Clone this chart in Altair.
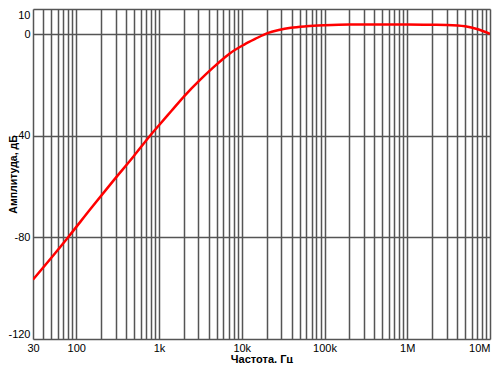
import altair as alt
import pandas as pd

# Curve readings (frequency in Hz, amplitude in dB)
freq_hz = [30, 50, 83, 150, 278, 500, 770, 1000, 1400, 2034, 3088, 4500,
           6174, 7102, 10715, 14500, 20500, 28000, 39200, 60000, 98700,
           200000, 500000, 1000000, 2000000, 3000000, 5000000, 7300000,
           10000000]
amp_db = [-96.6, -88.0, -79.2, -68.6, -57.8, -47.8, -40.1, -35.8, -30.3,
          -24.2, -18.1, -13.1, -9.2, -7.6, -4.0, -1.8, 0.5, 1.7, 2.6, 3.2,
          3.6, 3.9, 3.9, 3.9, 3.8, 3.7, 3.2, 1.9, 0.2]

# Axis ticks / labels
x_grid = [m * 10 ** k for k in range(1, 7) for m in range(1, 10)
          if 30 <= m * 10 ** k <= 10_000_000] + [10_000_000]
x_label_values = [30, 100, 1000, 10000, 100000, 1000000, 10000000]
x_label_texts = ["30", "100", "1k", "10k", "100k", "1M", "10M"]
y_ticks = [10, 0, -40, -80, -120]

x_title = "Частота, Гц"
y_title = "Амплитуда, дБ"

df = pd.DataFrame({"f": freq_hz, "db": amp_db})

label_expr = " : ".join(
    f"datum.value == {v} ? '{t}'" for v, t in zip(x_label_values, x_label_texts)
) + " : ''"

FONT = "Liberation Sans, Arial, sans-serif"
W, H = 457, 330

chart = alt.Chart(df).mark_line(
    color="#ff0000", strokeWidth=2.5, interpolate="monotone", clip=True
).encode(
    x=alt.X("f:Q",
            scale=alt.Scale(type="log", domain=[30, 10_000_000], nice=False),
            axis=alt.Axis(values=x_grid, labelExpr=label_expr, title=x_title,
                          grid=True, gridColor="#555555", gridWidth=1.5,
                          gridOpacity=1, ticks=False, domain=False,
                          labelFlush=False, labelOverlap=False,
                          labelAlign={"condition": {"test": "datum.value >= 10000000",
                                                    "value": "right"},
                                      "value": "center"},
                          labelFont=FONT, labelFontSize=11, labelColor="#000",
                          labelPadding=3,
                          titleFont=FONT, titleFontSize=11, titleFontWeight="bold",
                          titleColor="#000", titlePadding=0)),
    y=alt.Y("db:Q",
            scale=alt.Scale(domain=[-120, 10], nice=False, zero=False),
            axis=alt.Axis(values=y_ticks, title=y_title,
                          labelExpr="datum.value + ''",
                          grid=True, gridColor="#555555", gridWidth=1.5,
                          gridOpacity=1, ticks=False, domain=False,
                          labelFlush=True, labelOverlap=False,
                          labelFont=FONT, labelFontSize=11, labelColor="#000",
                          labelPadding=3,
                          titleFont=FONT, titleFontSize=10.5, titleFontWeight="bold",
                          titleColor="#000", titleX=-20, titleY=H / 2,
                          titleAngle=-90, titleBaseline="middle",
                          titleAlign="center")),
).properties(
    width=W, height=H,
    autosize=alt.AutoSizeParams(type="none"),
    padding={"left": 25, "top": 1, "right": 2, "bottom": 24},
).configure_view(stroke=None).configure(background="white")

chart.save("out.html", embed_options={"renderer": "svg", "actions": False})
